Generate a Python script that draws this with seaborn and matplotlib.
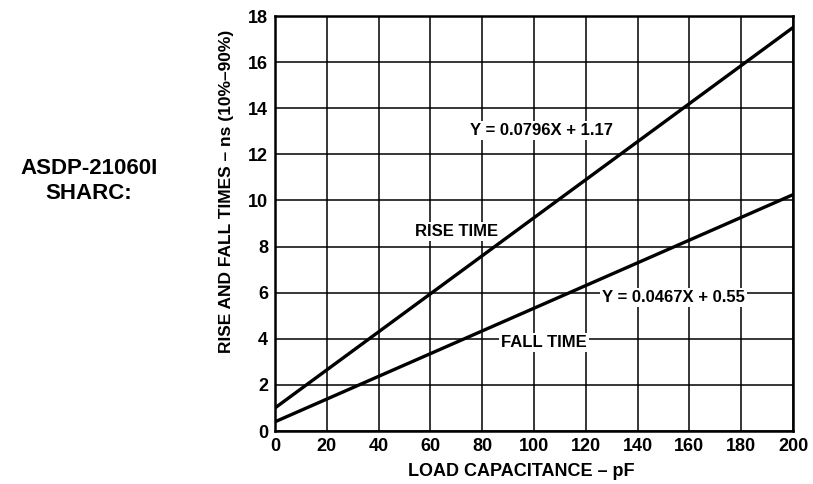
import matplotlib
matplotlib.use("Agg")
import matplotlib.pyplot as plt
import seaborn as sns
import pandas as pd

# values
load_pf = [0, 200]
rise_ns = [1.0, 17.5]
fall_ns = [0.4, 10.25]
x_ticks = list(range(0, 201, 20))
y_ticks = list(range(0, 19, 2))

sns.set_style("white")
plt.rcParams["font.family"] = ["Liberation Sans", "DejaVu Sans"]
plt.rcParams["font.weight"] = "bold"
plt.rcParams["text.color"] = "black"
plt.rcParams["xtick.color"] = "black"
plt.rcParams["ytick.color"] = "black"

df = pd.DataFrame({
    "load": load_pf * 2,
    "time": rise_ns + fall_ns,
    "edge": ["rise"] * 2 + ["fall"] * 2,
})

W, H = 813, 484
fig = plt.figure(figsize=(W / 100, H / 100), dpi=100)
ax = fig.add_axes([275 / W, 1 - 431 / H, 518 / W, 415 / H])

sns.lineplot(data=df, x="load", y="time", units="edge", estimator=None,
             color="black", linewidth=2.4, ax=ax, legend=False)

ax.set_xlim(0, 200)
ax.set_ylim(0, 18)
ax.set_xticks(x_ticks)
ax.set_yticks(y_ticks)
ax.grid(True, color="black", linewidth=1.1)
ax.set_axisbelow(True)
for s in ax.spines.values():
    s.set_color("black")
    s.set_linewidth(1.8)
ax.tick_params(axis="both", length=0, labelsize=13, pad=5)
for lbl in ax.get_xticklabels() + ax.get_yticklabels():
    lbl.set_fontweight("bold")
ax.set_xlabel("")
ax.set_ylabel("")

fig.text(521 / W, 1 - 472 / H, "LOAD CAPACITANCE – pF", ha="center", va="center",
         fontsize=13, fontweight="bold")
fig.text(226 / W, 1 - 191 / H, "RISE AND FALL TIMES – ns (10%–90%)", ha="center",
         va="center", rotation=90, fontsize=12.5, fontweight="bold")

box = dict(facecolor="white", edgecolor="none", pad=1.5)
ax.text(103, 13.05, "Y = 0.0796X + 1.17", ha="center", va="center",
        fontsize=12, fontweight="bold", bbox=box)
ax.text(154, 5.77, "Y = 0.0467X + 0.55", ha="center", va="center",
        fontsize=12, fontweight="bold", bbox=box)
ax.text(70, 8.67, "RISE TIME", ha="center", va="center",
        fontsize=12, fontweight="bold", bbox=box)
ax.text(104, 3.82, "FALL TIME", ha="center", va="center",
        fontsize=12, fontweight="bold", bbox=box)

fig.text(89 / W, 1 - 181 / H, "ASDP-21060I\nSHARC:", ha="center", va="center",
         fontsize=16, fontweight="bold", linespacing=1.2)

fig.savefig("out.png", dpi=100)
